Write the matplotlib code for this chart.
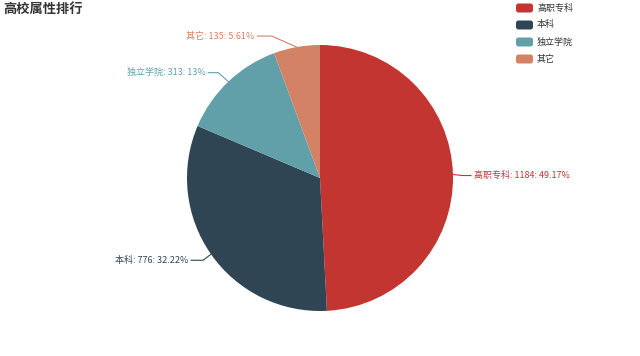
import numpy as np
import matplotlib
matplotlib.use('Agg')
from matplotlib import pyplot as plt
from matplotlib.patches import FancyBboxPatch

plt.rcParams['font.family'] = ['Noto Sans CJK SC', 'DejaVu Sans']

# ------------------------------- Data -------------------------------------
names = ['高职专科', '本科', '独立学院', '其它']
counts = [1184, 776, 313, 135]
pct_labels = ['49.17%', '32.22%', '13%', '5.61%']
colors = ['#c23531', '#2f4554', '#61a0a8', '#d48265']

# label line elbows relative to slice edge (px, y down) -- layout only
elbow = [(10, 1), (-8, 6), (-10, -9), (-25, -11)]
hlen = [8, 12, 10, 14]

# ------------------------------- Figure -----------------------------------
W, H = 640, 356
fig = plt.figure(figsize=(6.4, 3.56), dpi=100)
ax = fig.add_axes([0, 0, 1, 1])

cx, cy, R = 320, H - 178, 133
wedges, _ = ax.pie(counts, colors=colors, startangle=90, counterclock=False,
                   center=(cx, cy), radius=R,
                   wedgeprops=dict(linewidth=0))

for w, name, c, p, col, (ex, ey), hl in zip(wedges, names, counts, pct_labels,
                                           colors, elbow, hlen):
    mid = np.deg2rad((w.theta1 + w.theta2) / 2)
    x0, y0 = cx + R * np.cos(mid), cy + R * np.sin(mid)
    x1, y1 = x0 + ex, y0 - ey
    side = 1 if np.cos(mid) > 0 else -1
    x2 = x1 + side * hl
    ax.plot([x0, x1, x2], [y0, y1, y1], color=col, lw=0.8)
    ax.text(x2 + side * 3, y1, '%s: %d: %s' % (name, c, p), color=col,
            fontsize=6.5, va='center', ha='left' if side > 0 else 'right')

# title
ax.text(3, H - 9, '高校属性排行', fontsize=9.5, fontweight='bold',
        color='#333333', va='center', ha='left')

# legend
for i, (name, col) in enumerate(zip(names, colors)):
    ly = H - 8 - i * 17
    ax.add_patch(FancyBboxPatch((516, ly - 4.5), 17, 9,
                                boxstyle='round,pad=0,rounding_size=2.5',
                                fc=col, ec='none'))
    ax.text(537, ly, name, fontsize=6.5, color='#333333', va='center', ha='left')

ax.set_xlim(0, W)
ax.set_ylim(0, H)
ax.set_aspect('auto')
ax.axis('off')

fig.savefig('out.png', dpi=100)
